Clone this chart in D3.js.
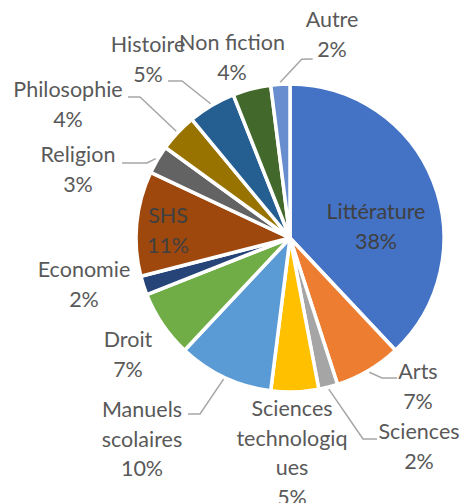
<!DOCTYPE html>
<html>
<head>
<meta charset="utf-8">
<script src="https://cdn.jsdelivr.net/npm/d3@7/dist/d3.min.js"></script>
<style>
html,body{margin:0;padding:0;background:#fff;}
svg{display:block;}
</style>
</head>
<body>
<svg id="chart" width="462" height="503"></svg>
<script>
// ---- data ----
const categories = ["Littérature","Arts","Sciences","Sciences technologiques","Manuels scolaires","Droit","Economie","SHS","Religion","Philosophie","Histoire","Non fiction","Autre"];
const values = [38,7,2,5,10,7,2,11,3,4,5,4,2];
const colors = ["#4472C4","#ED7D31","#A5A5A5","#FFC000","#5B9BD5","#70AD47","#264478","#9E480E","#636363","#997300","#255E91","#43682B","#698ED0"];
const labelLines = [["Littérature"],["Arts"],["Sciences"],["Sciences","technologiq","ues"],["Manuels","scolaires"],["Droit"],["Economie"],["SHS"],["Religion"],["Philosophie"],["Histoire"],["Non fiction"],["Autre"]];

// ---- layout (label placement, not data) ----
const labelPos = [
  {x:376,y:219,inside:true},
  {x:418,y:379},
  {x:419,y:439},
  {x:292,y:416},
  {x:142,y:417},
  {x:128,y:347},
  {x:84,y:277},
  {x:168,y:223,inside:true},
  {x:78,y:162},
  {x:68,y:97},
  {x:148,y:52},
  {x:232,y:50},
  {x:332,y:27}
];
const leaders = {
  1:[[382,378],[397,378]],
  2:[[363,439],[377,439]],
  4:[[200,414],[188,414]],
  8:[[147,163],[122,163]],
  9:[[140,97],[128,97]],
  10:[[182,81],[168,81]],
  12:[[301.7,59.3],[312.7,59]]
};

const cx = 290, cy = 238, R = 154, lineH = 29.5;
const svg = d3.select("#chart");
const g = svg.append("g").attr("transform",`translate(${cx},${cy})`);

const total = d3.sum(values);
const pie = d3.pie().sort(null).value(d=>d)(values);
const arc = d3.arc().innerRadius(0).outerRadius(R);
const edge = d3.arc().innerRadius(R+2).outerRadius(R+2);

g.selectAll("path.slice").data(pie).join("path")
  .attr("class","slice")
  .attr("d",arc)
  .attr("fill",(d,i)=>colors[i])
  .attr("stroke","#fff")
  .attr("stroke-width",3.5)
  .attr("stroke-linejoin","round");

// leader lines
const lineGen = d3.line();
Object.keys(leaders).forEach(k=>{
  const i = +k;
  const s = edge.centroid(pie[i]);
  const pts = [[s[0]+cx,s[1]+cy]].concat(leaders[k]);
  svg.append("path").attr("d",lineGen(pts))
    .attr("fill","none").attr("stroke","#A6A6A6").attr("stroke-width",1.5);
});

// labels
labelLines.forEach((lines,i)=>{
  const p = labelPos[i];
  const pct = Math.round(values[i]/total*100)+"%";
  const all = lines.concat([pct]);
  const t = svg.append("text")
    .attr("text-anchor","middle")
    .attr("font-family","Lato, 'Open Sans', sans-serif")
    .attr("font-size",21.5)
    .attr("fill", p.inside ? "#404040" : "#595959");
  all.forEach((ln,j)=>{
    t.append("tspan").attr("x",p.x).attr("y",p.y+j*lineH).text(ln);
  });
});
</script>
</body>
</html>
